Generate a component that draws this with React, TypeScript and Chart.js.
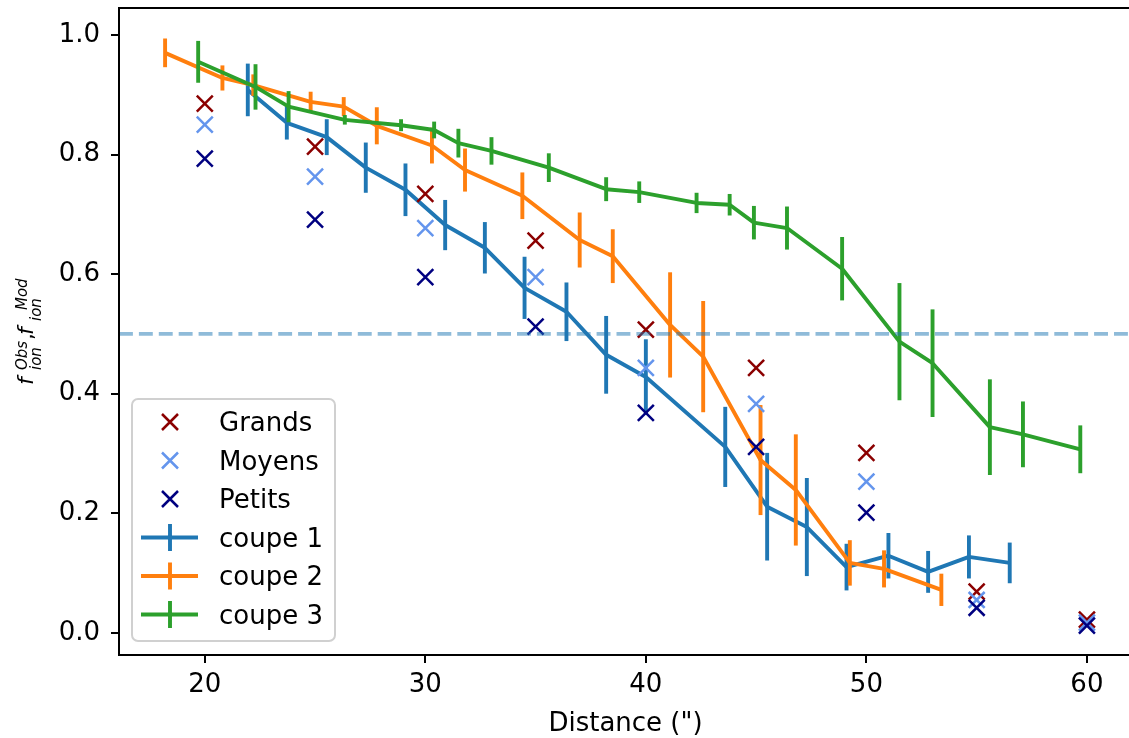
import React, { useEffect, useRef } from 'react';
import { Chart, registerables } from 'chart.js';
Chart.register(...registerables);

const FONT = '"DejaVu Sans", sans-serif';
const FS = 26;

// ---- data ----
const distX = [20, 25, 30, 35, 40, 45, 50, 55, 60];
const grands = [0.885, 0.813, 0.734, 0.656, 0.507, 0.443, 0.301, 0.069, 0.022];
const moyens = [0.850, 0.763, 0.677, 0.595, 0.443, 0.383, 0.253, 0.055, 0.017];
const petits = [0.793, 0.691, 0.595, 0.512, 0.368, 0.311, 0.201, 0.042, 0.012];

const coupe1X = [21.95, 23.72, 25.53, 27.3, 29.1, 30.9, 32.7, 34.5, 36.4, 38.2, 40.0, 43.6, 45.5, 47.3, 49.1, 51.0, 52.8, 54.65, 56.5];
const coupe1Y = [0.908, 0.853, 0.829, 0.778, 0.741, 0.682, 0.644, 0.577, 0.537, 0.465, 0.428, 0.311, 0.211, 0.177, 0.110, 0.129, 0.102, 0.127, 0.117];
const coupe1Err = [0.044, 0.028, 0.030, 0.042, 0.044, 0.042, 0.043, 0.052, 0.049, 0.065, 0.063, 0.067, 0.090, 0.082, 0.039, 0.038, 0.035, 0.036, 0.034];

const coupe2X = [18.2, 20.8, 22.2, 24.8, 26.3, 27.8, 30.3, 31.8, 34.4, 37.0, 38.5, 41.1, 42.6, 45.2, 46.8, 49.25, 50.8, 53.4];
const coupe2Y = [0.970, 0.928, 0.916, 0.888, 0.880, 0.848, 0.815, 0.774, 0.731, 0.657, 0.630, 0.515, 0.462, 0.289, 0.239, 0.117, 0.107, 0.072];
const coupe2Err = [0.024, 0.021, 0.018, 0.017, 0.016, 0.031, 0.030, 0.036, 0.039, 0.046, 0.045, 0.088, 0.093, 0.092, 0.093, 0.038, 0.031, 0.027];

const coupe3X = [19.7, 22.3, 23.8, 26.35, 28.9, 30.4, 31.5, 33.0, 35.6, 38.2, 39.7, 42.3, 43.8, 44.9, 46.4, 48.9, 51.5, 53.0, 55.6, 57.1, 59.7];
const coupe3Y = [0.955, 0.913, 0.880, 0.858, 0.849, 0.841, 0.819, 0.806, 0.778, 0.742, 0.737, 0.719, 0.716, 0.686, 0.677, 0.609, 0.487, 0.451, 0.344, 0.332, 0.307];
const coupe3Err = [0.035, 0.038, 0.026, 0.008, 0.010, 0.014, 0.024, 0.023, 0.024, 0.020, 0.018, 0.017, 0.018, 0.028, 0.036, 0.053, 0.098, 0.090, 0.080, 0.055, 0.040];

const threshold = 0.5;
const xTicks = [20, 30, 40, 50, 60];
const yTicks = [0.0, 0.2, 0.4, 0.6, 0.8, 1.0];
const xLabel = 'Distance (")';

const scatterSeries = [
  { label: 'Grands', values: grands, color: '#8b0000', order: 0.2 },
  { label: 'Moyens', values: moyens, color: '#6495ed', order: 0.1 },
  { label: 'Petits', values: petits, color: '#000080', order: 0 },
];
const lineSeries = [
  { label: 'coupe 1', xs: coupe1X, ys: coupe1Y, errs: coupe1Err, color: '#1f77b4', order: 3 },
  { label: 'coupe 2', xs: coupe2X, ys: coupe2Y, errs: coupe2Err, color: '#ff7f0e', order: 2 },
  { label: 'coupe 3', xs: coupe3X, ys: coupe3Y, errs: coupe3Err, color: '#2ca02c', order: 1 },
];

const LW = 3.9;

const customPlugin = {
  id: 'custom',
  afterDatasetDraw(chart: any, args: any) {
    const ds: any = chart.data.datasets[args.index];
    if (!ds.errs) return;
    const ctx = chart.ctx;
    const xs = chart.scales.x, ys = chart.scales.y;
    const a = chart.chartArea;
    ctx.save();
    ctx.beginPath();
    ctx.rect(a.left, a.top, a.right - a.left, a.bottom - a.top);
    ctx.clip();
    ctx.strokeStyle = ds.borderColor;
    ctx.lineWidth = LW;
    ctx.lineCap = 'butt';
    ds.data.forEach((p: any, i: number) => {
      const x = xs.getPixelForValue(p.x);
      const y1 = ys.getPixelForValue(p.y - ds.errs[i]);
      const y2 = ys.getPixelForValue(p.y + ds.errs[i]);
      ctx.beginPath();
      ctx.moveTo(x, y1);
      ctx.lineTo(x, y2);
      ctx.stroke();
    });
    ctx.restore();
  },
  afterDatasetsDraw(chart: any) {
    const ctx = chart.ctx;
    const a = chart.chartArea;
    const y = chart.scales.y.getPixelForValue(threshold);
    ctx.save();
    ctx.strokeStyle = 'rgba(31,119,180,0.5)';
    ctx.lineWidth = LW;
    ctx.setLineDash([13.9, 6]);
    ctx.beginPath();
    ctx.moveTo(a.left, y);
    ctx.lineTo(a.right, y);
    ctx.stroke();
    ctx.setLineDash([]);
    ctx.strokeStyle = '#000';
    ctx.lineWidth = 2;
    ctx.strokeRect(a.left, a.top, a.right - a.left, a.bottom - a.top);
    ctx.restore();
  },
  afterDraw(chart: any) {
    const ctx = chart.ctx;
    ctx.save();
    // x title
    ctx.fillStyle = '#000';
    ctx.font = `${FS}px ${FONT}`;
    ctx.textAlign = 'center';
    ctx.textBaseline = 'alphabetic';
    ctx.fillText(xLabel, 625.5, 731);

    // y title (mathtext-like)
    ctx.save();
    ctx.translate(33, 331);
    ctx.rotate(-Math.PI / 2);
    ctx.textAlign = 'left';
    const main = `italic 22px ${FONT}`;
    const scr = `italic 15px ${FONT}`;
    ctx.font = main;
    ctx.fillText('f', -54, 0);
    ctx.font = scr;
    ctx.fillText('Obs', -39, -6);
    ctx.fillText('ion', -39, 8);
    ctx.font = `22px ${FONT}`;
    ctx.fillText(',', -9, 0);
    ctx.font = main;
    ctx.fillText('f', -4, 0);
    ctx.font = scr;
    ctx.fillText('ion', 10, 8);
    ctx.fillText('Mod', 21, -6);
    ctx.restore();

    // legend
    const lx = 132, ly = 399, lw = 203, lh = 242, r = 6;
    ctx.beginPath();
    ctx.moveTo(lx + r, ly);
    ctx.arcTo(lx + lw, ly, lx + lw, ly + lh, r);
    ctx.arcTo(lx + lw, ly + lh, lx, ly + lh, r);
    ctx.arcTo(lx, ly + lh, lx, ly, r);
    ctx.arcTo(lx, ly, lx + lw, ly, r);
    ctx.closePath();
    ctx.fillStyle = 'rgba(255,255,255,0.8)';
    ctx.fill();
    ctx.strokeStyle = '#d0d0d0';
    ctx.lineWidth = 2;
    ctx.stroke();

    const entries = [
      ...scatterSeries.map((s) => ({ label: s.label, color: s.color, kind: 'x' })),
      ...lineSeries.map((s) => ({ label: s.label, color: s.color, kind: 'line' })),
    ];
    entries.forEach((e, i) => {
      const base = 431 + i * 38.5;
      const cy = base - 9;
      const cx = 170;
      ctx.strokeStyle = e.color;
      if (e.kind === 'x') {
        ctx.lineWidth = 2.5;
        ctx.beginPath();
        ctx.moveTo(cx - 8, cy - 8);
        ctx.lineTo(cx + 8, cy + 8);
        ctx.moveTo(cx - 8, cy + 8);
        ctx.lineTo(cx + 8, cy - 8);
        ctx.stroke();
      } else {
        ctx.lineWidth = LW;
        ctx.beginPath();
        ctx.moveTo(141, cy);
        ctx.lineTo(198, cy);
        ctx.moveTo(cx, cy - 13.5);
        ctx.lineTo(cx, cy + 13.5);
        ctx.stroke();
      }
      ctx.fillStyle = '#000';
      ctx.font = `${FS}px ${FONT}`;
      ctx.textAlign = 'left';
      ctx.fillText(e.label, 219, base);
    });
    ctx.restore();
  },
};

const zeroPad = (s: any) => {
  s.paddingTop = 0;
  s.paddingBottom = 0;
  s.paddingLeft = 0;
  s.paddingRight = 0;
};

export default function App() {
  const ref = useRef<HTMLCanvasElement>(null);
  useEffect(() => {
    document.body.style.margin = '0';
    const canvas = ref.current!;
    const datasets: any[] = [
      ...scatterSeries.map((s) => ({
        label: s.label,
        data: distX.map((x, i) => ({ x, y: s.values[i] })),
        showLine: false,
        pointStyle: 'crossRot',
        pointRadius: 11.3,
        pointBorderWidth: 2.5,
        borderColor: s.color,
        backgroundColor: s.color,
        order: s.order,
      })),
      ...lineSeries.map((s) => ({
        label: s.label,
        data: s.xs.map((x, i) => ({ x, y: s.ys[i] })),
        errs: s.errs,
        showLine: true,
        pointRadius: 0,
        borderWidth: LW,
        borderColor: s.color,
        backgroundColor: s.color,
        borderJoinStyle: 'round',
        fill: false,
        tension: 0,
        order: s.order,
      })),
    ];
    const chart = new Chart(canvas, {
      type: 'scatter',
      data: { datasets },
      plugins: [customPlugin],
      options: {
        animation: false,
        responsive: false,
        devicePixelRatio: 1,
        events: [],
        layout: { autoPadding: false, padding: { left: 0, top: 8, right: 7, bottom: 0 } },
        plugins: { legend: { display: false }, tooltip: { enabled: false } },
        scales: {
          x: {
            type: 'linear',
            min: 16.11,
            max: 62.09,
            afterBuildTicks: (s: any) => {
              s.ticks = xTicks.map((v) => ({ value: v }));
            },
            afterFit: (s: any) => {
              s.height = 83;
              zeroPad(s);
            },
            grid: { drawOnChartArea: false, drawTicks: true, tickLength: 8, color: '#000', lineWidth: 2 },
            border: { display: true, color: '#000', width: 2 },
            ticks: {
              font: { family: FONT, size: FS },
              color: '#000',
              padding: 7,
              maxRotation: 0,
              callback: (v: any) => String(v),
            },
          },
          y: {
            type: 'linear',
            min: -0.037,
            max: 1.045,
            afterBuildTicks: (s: any) => {
              s.ticks = yTicks.map((v) => ({ value: v }));
            },
            afterFit: (s: any) => {
              s.width = 119;
              zeroPad(s);
            },
            grid: { drawOnChartArea: false, drawTicks: true, tickLength: 8, color: '#000', lineWidth: 2 },
            border: { display: true, color: '#000', width: 2 },
            ticks: {
              font: { family: FONT, size: FS },
              color: '#000',
              padding: 11,
              callback: (v: any) => Number(v).toFixed(1),
            },
          },
        },
      } as any,
    });
    return () => chart.destroy();
  }, []);
  return (
    <div style={{ width: 1129, height: 738, overflow: 'hidden', position: 'relative' }}>
      <canvas ref={ref} width={1140} height={738} style={{ display: 'block', width: 1140, height: 738 }} />
    </div>
  );
}
